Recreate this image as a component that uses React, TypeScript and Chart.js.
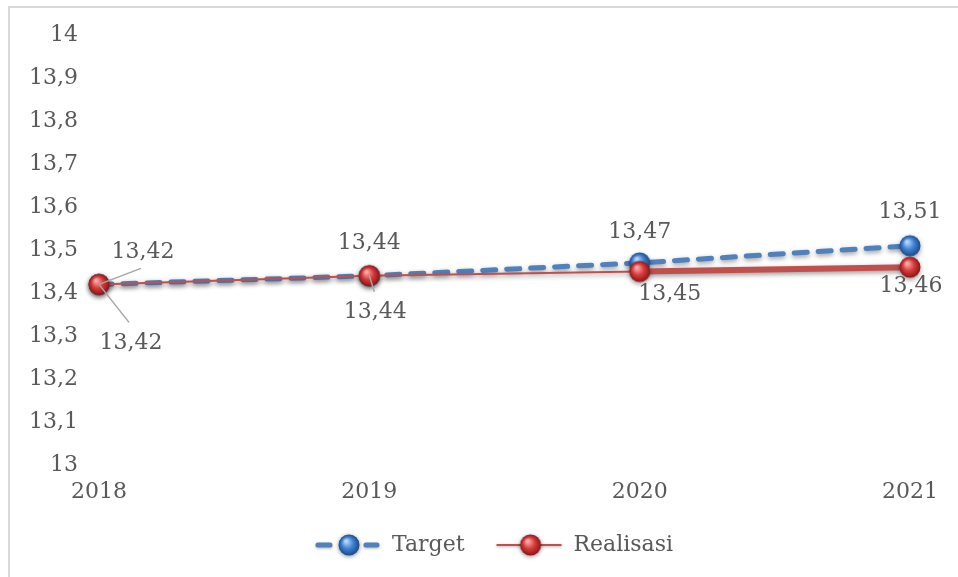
import React, { useEffect, useRef } from "react";
import { Chart, registerables } from "chart.js";

Chart.register(...registerables);

const categories = ["2018", "2019", "2020", "2021"];
const targetValues = [13.42, 13.44, 13.47, 13.51];
const realisasiValues = [13.42, 13.44, 13.45, 13.46];
const yTickLabels = ["13", "13,1", "13,2", "13,3", "13,4", "13,5", "13,6", "13,7", "13,8", "13,9", "14"];
const seriesNames = ["Target", "Realisasi"];

const FONT = '"DejaVu Serif", serif';
const TEXT = "#595959";
const BLUE = "#4f81bd";
const RED = "#c0504d";

// label placement (style, relative to the point)
const labelStyle: { dx: number; dy: number; lx?: number; ly?: number }[][] = [
  [
    { dx: 44, dy: -32, lx: 42, ly: -16 },
    { dx: 0, dy: -33 },
    { dx: 0, dy: -31 },
    { dx: 0, dy: -33 },
  ],
  [
    { dx: 32, dy: 59, lx: 30, ly: 38 },
    { dx: 6, dy: 36, lx: 5, ly: 16 },
    { dx: 30, dy: 23 },
    { dx: 1, dy: 19 },
  ],
];

function makeSphere(light: string, mid: string, dark: string) {
  const s = 30;
  const c = document.createElement("canvas");
  c.width = s;
  c.height = s;
  const g = c.getContext("2d")!;
  const cx = 15, cy = 15, r = 10.5;
  const grad = g.createRadialGradient(cx - 3, cy - 4, 1, cx, cy, r);
  grad.addColorStop(0, light);
  grad.addColorStop(0.5, mid);
  grad.addColorStop(1, dark);
  g.fillStyle = grad;
  g.beginPath();
  g.arc(cx, cy, r, 0, Math.PI * 2);
  g.fill();
  return c;
}

export default function App() {
  const ref = useRef<HTMLCanvasElement>(null);

  useEffect(() => {
    const canvas = ref.current!;
    const blueSphere = makeSphere("#b4d6f7", "#3f82d4", "#1d4a86");
    const redSphere = makeSphere("#f8aaaa", "#d93b3b", "#8a1616");
    const spheres = [blueSphere, redSphere];

    const framePlugin = {
      id: "frame",
      beforeDraw(chart: any) {
        const ctx = chart.ctx;
        ctx.save();
        ctx.fillStyle = "#ffffff";
        ctx.fillRect(0, 0, chart.width, chart.height);
        ctx.strokeStyle = "#d9d9d9";
        ctx.lineWidth = 2;
        ctx.beginPath();
        ctx.moveTo(9, chart.height);
        ctx.lineTo(9, 7);
        ctx.lineTo(chart.width, 7);
        ctx.stroke();
        ctx.restore();
      },
    };

    const shadowPlugin = {
      id: "shadow",
      beforeDatasetDraw(chart: any) {
        const c = chart.ctx;
        c.save();
        c.shadowColor = "rgba(0,0,0,0.4)";
        c.shadowBlur = 5;
        c.shadowOffsetY = 2;
      },
      afterDatasetDraw(chart: any) {
        chart.ctx.restore();
      },
    };

    const labelPlugin = {
      id: "labels",
      afterDatasetsDraw(chart: any) {
        const ctx = chart.ctx;
        ctx.save();
        ctx.font = `22px ${FONT}`;
        ctx.textAlign = "center";
        ctx.textBaseline = "middle";
        chart.data.datasets.forEach((ds: any, i: number) => {
          const meta = chart.getDatasetMeta(i);
          meta.data.forEach((p: any, j: number) => {
            const st = labelStyle[i][j];
            const v = ds.data[j] as number;
            if (st.lx !== undefined && st.ly !== undefined) {
              ctx.strokeStyle = "#a6a6a6";
              ctx.lineWidth = 1.5;
              ctx.beginPath();
              ctx.moveTo(p.x, p.y);
              ctx.lineTo(p.x + st.lx, p.y + st.ly);
              ctx.stroke();
            }
            ctx.fillStyle = TEXT;
            ctx.fillText(v.toFixed(2).replace(".", ","), p.x + st.dx, p.y + st.dy);
          });
        });
        ctx.restore();
      },
    };

    const legendPlugin = {
      id: "customLegend",
      afterDraw(chart: any) {
        const ctx = chart.ctx;
        const dss = chart.data.datasets;
        ctx.save();
        ctx.font = `22px ${FONT}`;
        const y = 545;
        const lineW = 65, gapText = 12, gapItem = 32;
        const widths = dss.map((d: any) => ctx.measureText(d.label).width);
        let total = 0;
        widths.forEach((w: number) => (total += lineW + gapText + w));
        total += gapItem * (dss.length - 1);
        let x = 494 - total / 2;
        dss.forEach((d: any, i: number) => {
          ctx.save();
          ctx.strokeStyle = d.borderColor;
          ctx.lineCap = "round";
          ctx.shadowColor = "rgba(0,0,0,0.3)";
          ctx.shadowBlur = 3;
          ctx.shadowOffsetY = 1;
          if (d.borderDash && d.borderDash.length) {
            ctx.lineWidth = d.borderWidth;
            ctx.beginPath();
            ctx.moveTo(x + 3, y);
            ctx.lineTo(x + 15, y);
            ctx.moveTo(x + 51, y);
            ctx.lineTo(x + 62, y);
            ctx.stroke();
          } else {
            ctx.lineWidth = 2;
            ctx.lineCap = "butt";
            ctx.beginPath();
            ctx.moveTo(x, y);
            ctx.lineTo(x + lineW, y);
            ctx.stroke();
          }
          ctx.shadowColor = "rgba(0,0,0,0.45)";
          ctx.shadowBlur = 4;
          const img = spheres[i];
          ctx.drawImage(img, x + 34 - img.width / 2, y - img.height / 2);
          ctx.restore();
          ctx.fillStyle = TEXT;
          ctx.textAlign = "left";
          ctx.textBaseline = "middle";
          ctx.fillText(d.label, x + lineW + gapText, y);
          x += lineW + gapText + widths[i] + gapItem;
        });
        ctx.restore();
      },
    };

    const chart = new Chart(canvas, {
      type: "line",
      data: {
        labels: categories,
        datasets: [
          {
            label: seriesNames[0],
            data: targetValues,
            borderColor: BLUE,
            backgroundColor: BLUE,
            borderWidth: 5,
            borderDash: [13, 11],
            borderCapStyle: "round",
            pointStyle: blueSphere as any,
            pointRadius: 11,
            order: 1,
            clip: false as any,
            tension: 0,
          },
          {
            label: seriesNames[1],
            data: realisasiValues,
            borderColor: RED,
            backgroundColor: RED,
            borderWidth: 2,
            segment: {
              borderWidth: (c: any) => (c.p0DataIndex === 2 ? 6 : 2),
            },
            pointStyle: redSphere as any,
            pointRadius: 11,
            order: 0,
            clip: false as any,
            tension: 0,
          },
        ],
      },
      options: {
        responsive: false,
        animation: false,
        layout: { padding: { left: 0, right: 48, top: 35, bottom: 0 } },
        plugins: {
          legend: { display: false },
          tooltip: { enabled: false },
        },
        scales: {
          x: {
            offset: false,
            grid: { display: false, drawTicks: false },
            border: { display: false },
            ticks: {
              font: { family: FONT, size: 22 },
              color: TEXT,
              padding: 14,
              maxRotation: 0,
              autoSkip: false,
            },
            afterFit: (s: any) => {
              s.height = 112;
            },
          },
          y: {
            min: 13,
            max: 14,
            grid: { display: false, drawTicks: false },
            border: { display: false },
            ticks: {
              stepSize: 0.1,
              callback: (_v: any, i: number) => yTickLabels[i],
              font: { family: FONT, size: 22 },
              color: TEXT,
              padding: 21,
            },
            afterFit: (s: any) => {
              s.width = 99;
            },
          },
        },
      },
      plugins: [framePlugin, shadowPlugin, labelPlugin, legendPlugin],
    });

    return () => chart.destroy();
  }, []);

  return (
    <div style={{ position: "fixed", left: 0, top: 0, width: 958, height: 577, overflow: "hidden", background: "#fff" }}>
      <canvas ref={ref} width={958} height={577} style={{ display: "block", width: 958, height: 577 }} />
    </div>
  );
}
